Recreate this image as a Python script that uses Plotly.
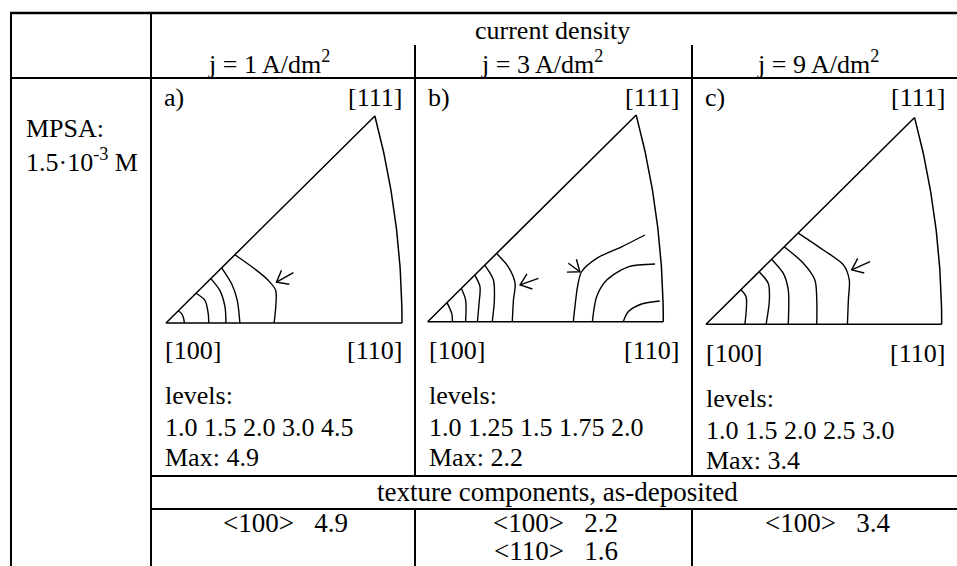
import numpy as np
import plotly.graph_objects as go

# ---------------- data ----------------
header_title = "current density"
current_density_labels = ["j = 1 A/dm<sup>2</sup>", "j = 3 A/dm<sup>2</sup>", "j = 9 A/dm<sup>2</sup>"]
panel_labels = ["a)", "b)", "c)"]
row_label = ["MPSA:", "1.5·10<sup>-3</sup> M"]
pole_labels = ["[100]", "[110]", "[111]"]
levels_a = [1.0, 1.5, 2.0, 3.0, 4.5]
levels_b = [1.0, 1.25, 1.5, 1.75, 2.0]
levels_c = [1.0, 1.5, 2.0, 2.5, 3.0]
max_values = [4.9, 2.2, 3.4]
texture_title = "texture components, as-deposited"
components_a = [("<100>", 4.9)]
components_b = [("<100>", 2.2), ("<110>", 1.6)]
components_c = [("<100>", 3.4)]

# pole positions in the projected triangle ([100] origin, [110] unit)
pole_100 = (0.0, 0.0)
pole_110 = (1.0, 0.0)
pole_111 = (0.885, 0.877)

# contour polylines (x, y) per panel
contours_a = [
    [(0.052, 0.052), (0.066, 0.040), (0.074, 0.022), (0.078, 0.0)],
    [(0.127, 0.126), (0.165, 0.096), (0.179, 0.039), (0.181, 0.0)],
    [(0.190, 0.188), (0.228, 0.138), (0.250, 0.068), (0.254, 0.0)],
    [(0.236, 0.234), (0.278, 0.166), (0.302, 0.096), (0.313, 0.0)],
    [(0.292, 0.289), (0.384, 0.223), (0.433, 0.181), (0.465, 0.138), (0.465, 0.068), (0.458, 0.0)],
]
contours_b = [
    [(0.082, 0.081), (0.102, 0.035), (0.105, 0.0)],
    [(0.143, 0.141), (0.161, 0.092), (0.161, 0.0)],
    [(0.200, 0.198), (0.222, 0.149), (0.218, 0.078), (0.211, 0.0)],
    [(0.242, 0.240), (0.279, 0.177), (0.283, 0.092), (0.274, 0.0)],
    [(0.292, 0.290), (0.342, 0.233), (0.371, 0.163), (0.364, 0.092), (0.359, 0.0)],
    [(0.922, 0.368), (0.823, 0.318), (0.717, 0.269), (0.653, 0.212), (0.636, 0.149), (0.625, 0.064), (0.618, 0.0)],
    [(0.965, 0.245), (0.851, 0.233), (0.760, 0.177), (0.717, 0.106), (0.699, 0.0)],
    [(0.985, 0.088), (0.908, 0.075), (0.851, 0.042), (0.830, 0.0)],
]
contours_c = [
    [(0.148, 0.147), (0.170, 0.117), (0.165, 0.0)],
    [(0.225, 0.223), (0.264, 0.174), (0.269, 0.103), (0.255, 0.0)],
    [(0.278, 0.276), (0.328, 0.216), (0.349, 0.146), (0.349, 0.0)],
    [(0.332, 0.329), (0.413, 0.259), (0.462, 0.188), (0.470, 0.103), (0.470, 0.0)],
    [(0.390, 0.388), (0.498, 0.315), (0.583, 0.252), (0.608, 0.188), (0.604, 0.103), (0.600, 0.0)],
]
# arrows: (tip, tail)
arrows_a = [((0.468, 0.173), (0.540, 0.213))]
arrows_b = [((0.392, 0.156), (0.470, 0.184)), ((0.646, 0.212), (0.597, 0.248))]
arrows_c = [((0.618, 0.231), (0.696, 0.266))]

# ---------------- layout geometry (pixels) ----------------
W, H = 957, 566
FAMILY = "Liberation Serif, Times New Roman, serif"
FONT = dict(family=FAMILY, size=26, color="black")
FONT_L = dict(family=FAMILY, size=27, color="black")
X_LEFT, X_COL, X_SEP = 11, 151, [415, 692]
Y_TOP, Y_HDR_SEP, Y_HDR, Y_TEX0, Y_TEX1 = 13, 45, 78, 476, 509

# per panel: origin pixel of [100], unit length in px, cell box
panel_geo = [
    dict(ox=166.0, oy=323.0, u=236.0, box=(152, 414, 80, 474), dy=0),
    dict(ox=427.7, oy=321.7, u=235.6, box=(416, 691, 80, 474), dy=0),
    dict(ox=706.0, oy=324.3, u=235.7, box=(693, 957, 80, 474), dy=3),
]
contours_all = [contours_a, contours_b, contours_c]
arrows_all = [arrows_a, arrows_b, arrows_c]
levels_all = [levels_a, levels_b, levels_c]
components_all = [components_a, components_b, components_c]


def fx(x):
    return x / W


def fy(y):
    return 1 - y / H


def fmt_level(v):
    s = f"{v:.2f}".rstrip("0")
    return s + "0" if s.endswith(".") else s


def esc(s):
    return s.replace("<", "&lt;").replace(">", "&gt;")


fig = go.Figure()

# boundary arc [110]-[111]: circle centred on x-axis, tangent to vertical at [110]
x1, y1 = pole_111
c = (x1 ** 2 + y1 ** 2 - 1) / (2 * (x1 - 1))
R = 1 - c
theta_end = np.arctan2(y1, x1 - c)
th = np.linspace(0, theta_end, 60)
arc_x = c + R * np.cos(th)
arc_y = R * np.sin(th)

for i, g in enumerate(panel_geo):
    ax = "" if i == 0 else str(i + 1)
    x0p, x1p, y0p, y1p = g["box"]
    fig.update_layout(**{
        f"xaxis{ax}": dict(domain=[fx(x0p), fx(x1p)],
                           range=[(x0p - g["ox"]) / g["u"], (x1p - g["ox"]) / g["u"]],
                           visible=False, fixedrange=True, anchor=f"y{ax}"),
        f"yaxis{ax}": dict(domain=[fy(y1p), fy(y0p)],
                           range=[(g["oy"] - y1p) / g["u"], (g["oy"] - y0p) / g["u"]],
                           visible=False, fixedrange=True, anchor=f"x{ax}"),
    })
    xa, ya = f"x{ax}", f"y{ax}"
    # triangle
    tx = [pole_110[0], pole_100[0], pole_111[0]] + list(arc_x[::-1])
    ty = [pole_110[1], pole_100[1], pole_111[1]] + list(arc_y[::-1])
    fig.add_trace(go.Scatter(x=tx, y=ty, mode="lines", line=dict(color="black", width=1.5),
                             xaxis=xa, yaxis=ya, hoverinfo="skip", showlegend=False))
    # contours
    for cl in contours_all[i]:
        fig.add_trace(go.Scatter(x=[p[0] for p in cl], y=[p[1] for p in cl], mode="lines",
                                 line=dict(color="black", width=1.4, shape="spline", smoothing=0.8),
                                 xaxis=xa, yaxis=ya, hoverinfo="skip", showlegend=False))
    # arrows
    for tip, tail in arrows_all[i]:
        tip = np.array(tip); tail = np.array(tail)
        d = (tail - tip) / np.linalg.norm(tail - tip)
        L = 0.055
        arms = []
        for ang in (np.radians(38), -np.radians(38)):
            rot = np.array([d[0] * np.cos(ang) - d[1] * np.sin(ang), d[0] * np.sin(ang) + d[1] * np.cos(ang)])
            arms.append(tip + L * rot)
        axs = [tail[0], tip[0], None, arms[0][0], tip[0], arms[1][0]]
        ays = [tail[1], tip[1], None, arms[0][1], tip[1], arms[1][1]]
        fig.add_trace(go.Scatter(x=axs, y=ays, mode="lines", line=dict(color="black", width=1.4),
                                 xaxis=xa, yaxis=ya, hoverinfo="skip", showlegend=False))

# ---------------- table lines ----------------
shapes = []


def hline(y, xa_, xb_, w=2):
    shapes.append(dict(type="line", xref="paper", yref="paper", x0=fx(xa_), x1=fx(xb_),
                       y0=fy(y), y1=fy(y), line=dict(color="black", width=w)))


def vline(x, ya_, yb_, w=2):
    shapes.append(dict(type="line", xref="paper", yref="paper", x0=fx(x), x1=fx(x),
                       y0=fy(ya_), y1=fy(yb_), line=dict(color="black", width=w)))


hline(Y_TOP, X_LEFT - 1, W, 2.5)
hline(Y_HDR, X_LEFT, W)
hline(Y_TEX0, X_COL, W)
hline(Y_TEX1, X_COL, W)
vline(X_LEFT, Y_TOP, H)
vline(X_COL, Y_TOP, H)
for xs in X_SEP:
    vline(xs, Y_HDR_SEP, Y_TEX0)
    vline(xs, Y_TEX1, H)

# ---------------- text ----------------
ann = []


def text(s, x, y, anchor="center", font=FONT):
    ann.append(dict(text=s, x=fx(x), y=fy(y), xref="paper", yref="paper", showarrow=False,
                    xanchor=anchor, yanchor="middle", font=font))


text(header_title, 552, 30)
label_cx = [269, 542, 818]
for i, g in enumerate(panel_geo):
    text(current_density_labels[i], label_cx[i], 62)
    x0p, x1p = g["box"][0], g["box"][1]
    dy = g["dy"]
    text(panel_labels[i], x0p + 10, 97, "left")
    text(pole_labels[2], x1p - 10, 97, "right")
    text(pole_labels[0], x0p + 11, 350 + dy, "left")
    text(pole_labels[1], x1p - 10, 350 + dy, "right")
    text("levels:", x0p + 11, 395 + dy, "left")
    text(" ".join(fmt_level(v) for v in levels_all[i]), x0p + 11, 427 + dy, "left")
    text(f"Max: {max_values[i]}", x0p + 11, 457 + dy, "left")
    for k, (comp, val) in enumerate(components_all[i]):
        text(f"{esc(comp)}&nbsp;&nbsp; {val}", (x0p + x1p) / 2 + 2, 523 + 28 * k, font=FONT_L)

text(row_label[0], 24, 128, "left")
text(row_label[1], 24, 160, "left")
text(texture_title, 557, 492, font=FONT_L)

fig.update_layout(width=W, height=H, autosize=False, margin=dict(l=0, r=0, t=0, b=0),
                  paper_bgcolor="white", plot_bgcolor="white", shapes=shapes, annotations=ann,
                  showlegend=False)
fig.write_html("out.html", config={"displayModeBar": False},
               post_script="document.body.style.margin='0';document.body.style.overflow='hidden';")
